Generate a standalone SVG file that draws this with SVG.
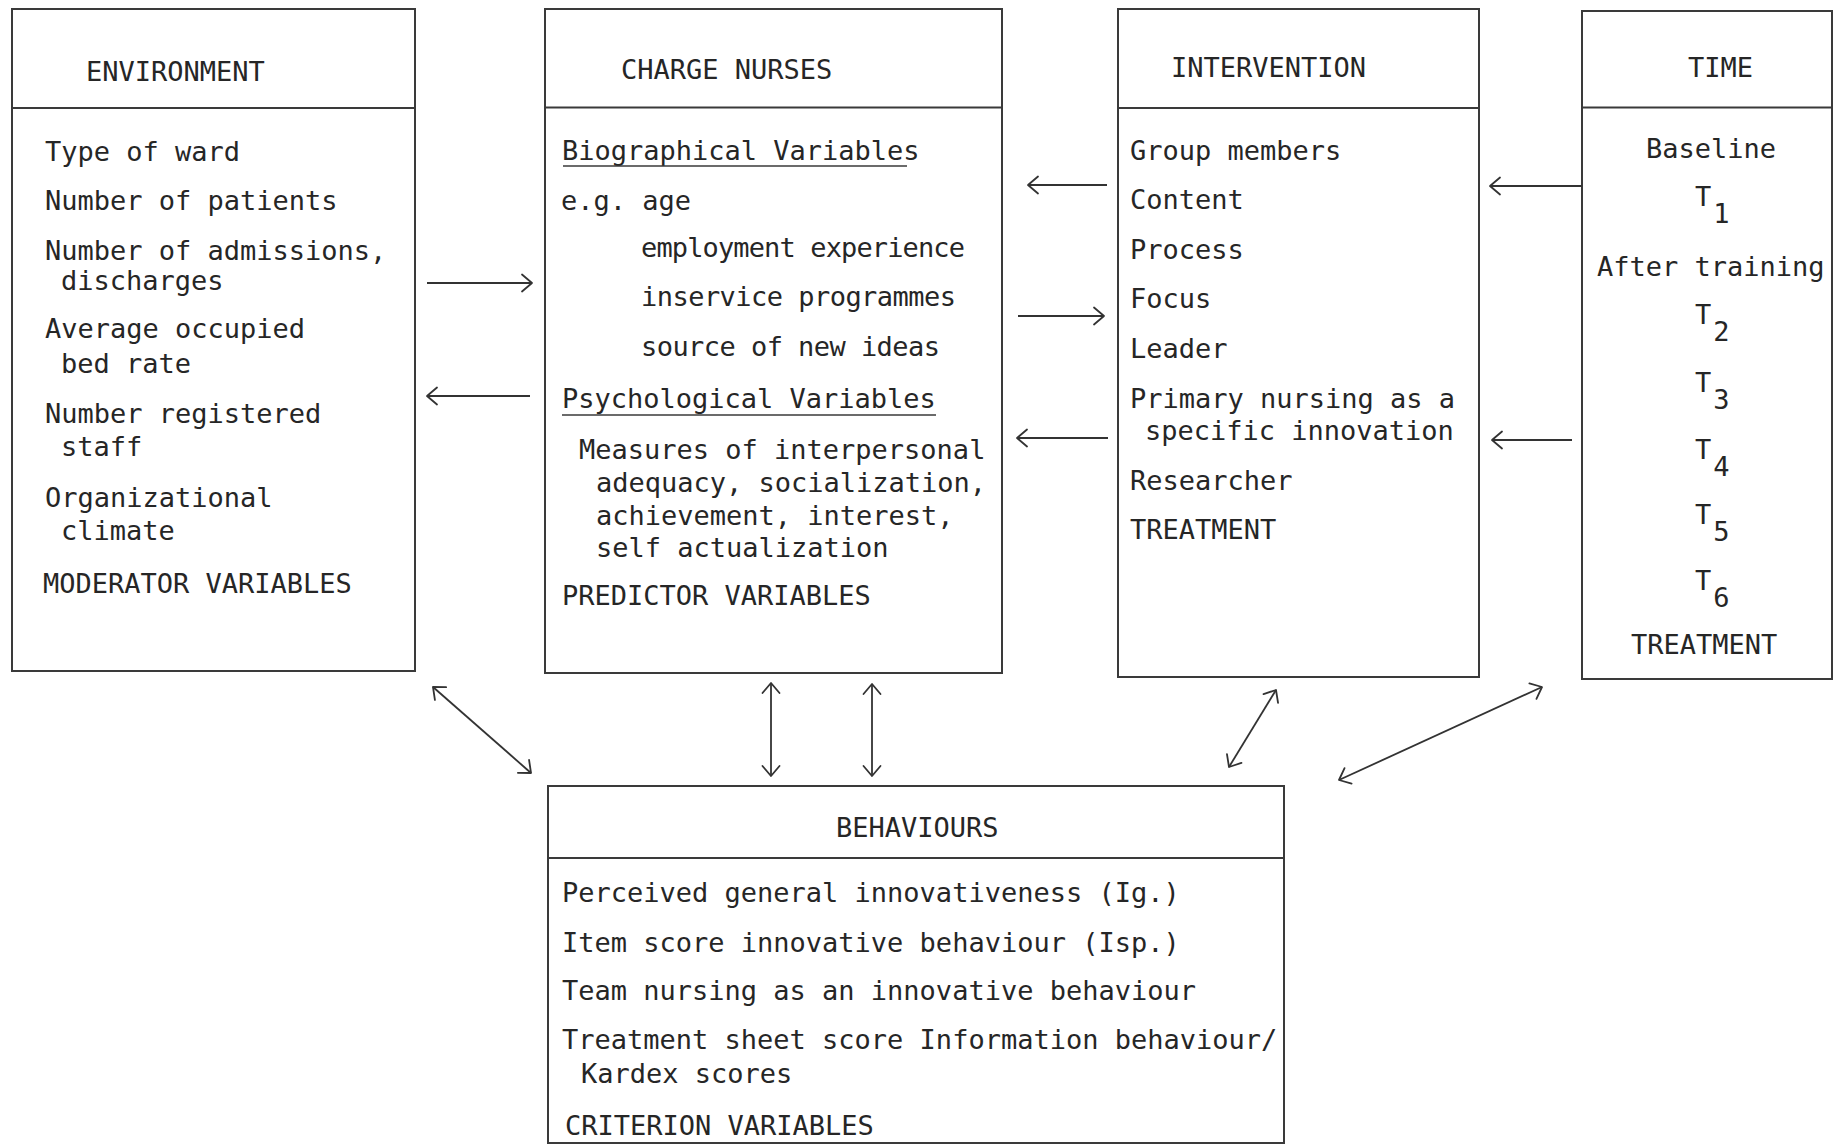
<svg xmlns="http://www.w3.org/2000/svg" width="1843" height="1146" viewBox="0 0 1843 1146">
  <style>
    .box { fill: none; stroke: #3a3a3a; stroke-width: 2; }
    .rule { stroke: #3a3a3a; stroke-width: 2; }
    .t { font-family: "DejaVu Sans Mono", "Liberation Mono", monospace; font-size: 27px; fill: #262626; }
    .ul { stroke: #3a3a3a; stroke-width: 1.6; }
    .conn { fill: none; stroke: #333; stroke-width: 1.8; marker-end: url(#head); }
    .both { marker-start: url(#head); }
  </style>
  <defs>
    <!-- open chevron arrowhead, sized in user units -->
    <marker id="head" viewBox="-12 -10 14 20" markerWidth="14" markerHeight="20" refX="0" refY="0" orient="auto-start-reverse" markerUnits="userSpaceOnUse">
      <path d="M-10,-8.5 L0,0 L-10,8.5" fill="none" stroke="#333" stroke-width="1.8" stroke-linecap="round" stroke-linejoin="round"/>
    </marker>
  </defs>
  <rect width="1843" height="1146" fill="#ffffff"/>

  <!-- ENVIRONMENT -->
  <g id="environment">
    <rect class="box" x="12" y="9" width="403" height="662"/>
    <line class="rule" x1="12" y1="108" x2="415" y2="108"/>
    <text class="t" x="86" y="81">ENVIRONMENT</text>
    <text class="t" x="45" y="161">Type of ward</text>
    <text class="t" x="45" y="210">Number of patients</text>
    <text class="t" x="45" y="260">Number of admissions,</text>
    <text class="t" x="61" y="290">discharges</text>
    <text class="t" x="45" y="338">Average occupied</text>
    <text class="t" x="61" y="373">bed rate</text>
    <text class="t" x="45" y="423">Number registered</text>
    <text class="t" x="61" y="456">staff</text>
    <text class="t" x="45" y="507">Organizational</text>
    <text class="t" x="61" y="540">climate</text>
    <text class="t" x="43" y="593">MODERATOR VARIABLES</text>
  </g>

  <!-- CHARGE NURSES -->
  <g id="charge-nurses">
    <rect class="box" x="545" y="9" width="457" height="664"/>
    <line class="rule" x1="545" y1="107.5" x2="1002" y2="107.5"/>
    <text class="t" x="621" y="79">CHARGE NURSES</text>
    <text class="t" x="562" y="160">Biographical Variables</text>
    <line class="ul" x1="563" y1="166" x2="907" y2="166"/>
    <text class="t" x="561" y="210">e.g. age</text>
    <text class="t" x="641" y="257" textLength="324" lengthAdjust="spacing">employment experience</text>
    <text class="t" x="641" y="306" textLength="315" lengthAdjust="spacing">inservice programmes</text>
    <text class="t" x="641" y="356" textLength="299" lengthAdjust="spacing">source of new ideas</text>
    <text class="t" x="562" y="408">Psychological Variables</text>
    <line class="ul" x1="562" y1="415" x2="936" y2="415"/>
    <text class="t" x="579" y="459">Measures of interpersonal</text>
    <text class="t" x="596" y="492">adequacy, socialization,</text>
    <text class="t" x="596" y="525">achievement, interest,</text>
    <text class="t" x="596" y="557">self actualization</text>
    <text class="t" x="562" y="605">PREDICTOR VARIABLES</text>
  </g>

  <!-- INTERVENTION -->
  <g id="intervention">
    <rect class="box" x="1118" y="9" width="361" height="668"/>
    <line class="rule" x1="1118" y1="108" x2="1479" y2="108"/>
    <text class="t" x="1171" y="77">INTERVENTION</text>
    <text class="t" x="1130" y="160">Group members</text>
    <text class="t" x="1130" y="209">Content</text>
    <text class="t" x="1130" y="259">Process</text>
    <text class="t" x="1130" y="308">Focus</text>
    <text class="t" x="1130" y="358">Leader</text>
    <text class="t" x="1130" y="408">Primary nursing as a</text>
    <text class="t" x="1145" y="440">specific innovation</text>
    <text class="t" x="1130" y="490">Researcher</text>
    <text class="t" x="1130" y="539">TREATMENT</text>
  </g>

  <!-- TIME -->
  <g id="time">
    <rect class="box" x="1582" y="11" width="250" height="668"/>
    <line class="rule" x1="1582" y1="107.5" x2="1832" y2="107.5"/>
    <text class="t" x="1688" y="77">TIME</text>
    <text class="t" x="1646" y="158">Baseline</text>
    <text class="t" x="1695" y="206">T<tspan dx="2" dy="17">1</tspan></text>
    <text class="t" x="1597" y="276">After training</text>
    <text class="t" x="1695" y="324">T<tspan dx="2" dy="17">2</tspan></text>
    <text class="t" x="1695" y="392">T<tspan dx="2" dy="17">3</tspan></text>
    <text class="t" x="1695" y="459">T<tspan dx="2" dy="17">4</tspan></text>
    <text class="t" x="1695" y="524">T<tspan dx="2" dy="17">5</tspan></text>
    <text class="t" x="1695" y="590">T<tspan dx="2" dy="17">6</tspan></text>
    <text class="t" x="1631" y="654">TREATMENT</text>
  </g>

  <!-- BEHAVIOURS -->
  <g id="behaviours">
    <rect class="box" x="548" y="786" width="736" height="357"/>
    <line class="rule" x1="548" y1="858" x2="1284" y2="858"/>
    <text class="t" x="836" y="837">BEHAVIOURS</text>
    <text class="t" x="562" y="902">Perceived general innovativeness (Ig.)</text>
    <text class="t" x="562" y="952">Item score innovative behaviour (Isp.)</text>
    <text class="t" x="562" y="1000">Team nursing as an innovative behaviour</text>
    <text class="t" x="562" y="1049">Treatment sheet score Information behaviour/</text>
    <text class="t" x="581" y="1083">Kardex scores</text>
    <text class="t" x="565" y="1135">CRITERION VARIABLES</text>
  </g>

  <!-- connectors -->
  <g id="connectors">
    <line class="conn" x1="427" y1="283" x2="532" y2="283"/>
    <line class="conn" x1="530" y1="396" x2="427" y2="396"/>
    <line class="conn" x1="1107" y1="185" x2="1028" y2="185"/>
    <line class="conn" x1="1018" y1="316" x2="1104" y2="316"/>
    <line class="conn" x1="1108" y1="438" x2="1017" y2="438"/>
    <line class="conn" x1="1582" y1="186" x2="1490" y2="186"/>
    <line class="conn" x1="1572" y1="440" x2="1492" y2="440"/>
    <line class="conn both" x1="433" y1="687" x2="531" y2="773"/>
    <line class="conn both" x1="771" y1="683" x2="771" y2="776"/>
    <line class="conn both" x1="872" y1="684" x2="872" y2="776"/>
    <line class="conn both" x1="1276" y1="690" x2="1229" y2="767"/>
    <line class="conn both" x1="1542" y1="687" x2="1339" y2="780"/>
  </g>
</svg>
